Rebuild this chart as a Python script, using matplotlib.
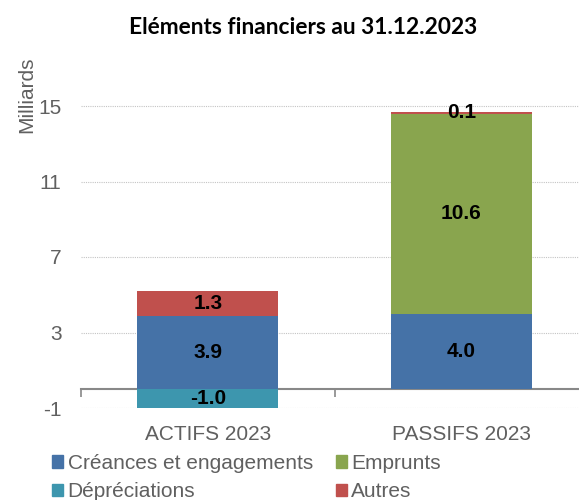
import numpy as np
import matplotlib.pyplot as plt
from matplotlib.patches import Patch

# données (milliards)
categories = ['ACTIFS 2023', 'PASSIFS 2023']
creances = [3.9, 4.0]
emprunts = [0.0, 10.6]
autres = [1.3, 0.1]
depreciations = [-1.0, 0.0]

colors = {'Créances et engagements': '#4572A7', 'Emprunts': '#89A54E',
          'Dépréciations': '#3D96AE', 'Autres': '#C0504D'}

plt.rcParams['font.family'] = ['Liberation Sans', 'DejaVu Sans']
plt.rcParams['axes.unicode_minus'] = False
GRAY = '#606060'
FS = 15

fig = plt.figure(figsize=(5.79, 5.0), dpi=100)
YMIN, YMAX = -1, 19
ax = fig.add_axes([81 / 579, 92 / 500, 507 / 579, 0.755])
ax.set_xlim(-0.5, 1.5)
ax.set_ylim(YMIN, YMAX)

x = np.arange(len(categories))
w = 0.556
pos_base = np.zeros(len(categories))
for name, vals in [('Créances et engagements', creances), ('Emprunts', emprunts),
                   ('Autres', autres)]:
    vals = np.array(vals)
    ax.bar(x, vals, w, bottom=pos_base, color=colors[name], zorder=3)
    for xi, b, v in zip(x, pos_base, vals):
        if v != 0:
            ax.text(xi, b + v / 2, f'{v:.1f}', ha='center', va='center',
                    fontsize=FS, fontweight='bold', color='black', zorder=4)
    pos_base = pos_base + vals

dep = np.array(depreciations)
ax.bar(x, dep, w, color=colors['Dépréciations'], zorder=3)
for xi, v in zip(x, dep):
    if v != 0:
        ax.text(xi, v / 2, f'{v:.1f}', ha='center', va='center',
                fontsize=FS, fontweight='bold', color='black', zorder=4)

# grille
ax.set_yticks([-1, 3, 7, 11, 15])
ax.yaxis.grid(True, color='#C4C4C4', linestyle=(0, (1, 1)), linewidth=0.8, zorder=0)
for s in ax.spines.values():
    s.set_visible(False)
ax.tick_params(axis='y', length=0, pad=14, labelsize=FS, labelcolor=GRAY)
ax.set_xticks(x)
ax.set_xticklabels(categories)
ax.tick_params(axis='x', length=0, pad=12, labelsize=FS, labelcolor=GRAY)

# axe horizontal à zéro
sec = ax.secondary_xaxis((0 - YMIN) / (YMAX - YMIN))
sec.set_xticks([-0.5, 0.5, 1.5])
sec.set_xticklabels([])
sec.tick_params(length=6, width=1.2, color='#888888', direction='out')
sec.spines['bottom'].set_color('#888888')
sec.spines['bottom'].set_linewidth(1.5)
sec.spines['bottom'].set_zorder(5)

fig.text(27 / 579, 1 - 95 / 500, 'Milliards', rotation=90, ha='center', va='center',
         fontsize=FS, color=GRAY)

fig.text(303 / 579, 1 - 27 / 500, 'Eléments financiers au 31.12.2023',
         ha='center', va='center', fontsize=16.4, fontweight='bold',
         family=['Lato', 'DejaVu Sans'])

handles = [Patch(color=colors[n]) for n in
           ['Créances et engagements', 'Dépréciations', 'Emprunts', 'Autres']]
labels = ['Créances et engagements', 'Dépréciations', 'Emprunts', 'Autres']
fig.legend(handles, labels, ncol=2, loc='upper left',
           bbox_to_anchor=(52 / 579, 1 - 454 / 500), frameon=False,
           fontsize=FS, labelcolor=GRAY, handlelength=0.55, handleheight=0.55,
           handletextpad=0.2, columnspacing=1.1, labelspacing=0.45, borderpad=0,
           borderaxespad=0)

fig.savefig('out.png', dpi=100)
